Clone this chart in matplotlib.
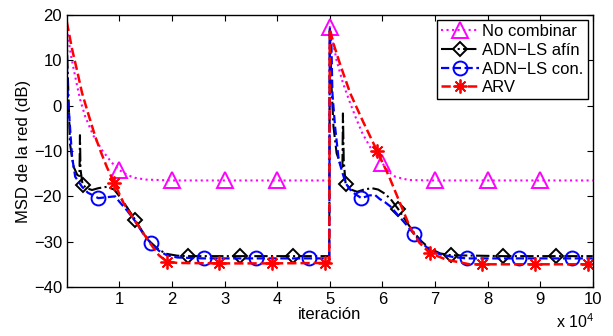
import numpy as np
import matplotlib
matplotlib.use("Agg")
import matplotlib.pyplot as plt

plt.rcParams['font.family'] = ['Liberation Sans', 'DejaVu Sans']
plt.rcParams['font.size'] = 12
plt.rcParams['mathtext.fontset'] = 'custom'
plt.rcParams['mathtext.rm'] = 'Liberation Sans'

# iterations in units of 10^4, MSD in dB
it_noc = [0, 0.08, 0.16, 0.25, 0.35, 0.5, 0.67, 0.85, 1.0, 1.15, 1.29, 1.5, 2.0, 3.0, 4.0, 4.99,
          5.0, 5.06, 5.13, 5.25, 5.39, 5.5, 5.62, 5.8, 6.0, 6.12, 6.25, 6.5, 7.0, 8.0, 9.0, 10.0]
msd_noc = [17, 11, 6.4, 1.5, -2.4, -6.5, -9.8, -12.5, -14.2, -15.3, -15.9, -16.3, -16.5, -16.5, -16.5, -16.5,
           17.4, 14, 10, 5, 0.5, -2.8, -6.1, -9.8, -12.7, -14.6, -15.7, -16.4, -16.5, -16.5, -16.5, -16.5]
mk_noc = [1, 2, 3, 4, 5, 6, 7, 8, 9]

it_afin = [0, 0.01, 0.03, 0.06, 0.1, 0.13, 0.2, 0.24, 0.25, 0.26, 0.3, 0.4, 0.48, 0.6, 0.76, 0.9,
           1.0, 1.15, 1.3, 1.45, 1.58, 1.75, 1.9, 2.1, 2.3, 3.3, 4.3, 4.99,
           5.0, 5.01, 5.03, 5.07, 5.13, 5.2, 5.24, 5.25, 5.265, 5.3, 5.4, 5.52, 5.65, 5.8, 5.92, 6.03,
           6.15, 6.3, 6.45, 6.6, 6.75, 6.9, 7.1, 7.3, 8.3, 9.3, 10.0]
msd_afin = [16, 10, 2.8, -8.3, -11.5, -13.5, -15.3, -15.5, -6.5, -14, -17.5, -18.3, -18.6, -18.2, -17.9, -18.5,
            -20, -22.5, -25.2, -28, -30, -31.8, -32.7, -33.1, -33.2, -33.2, -33.2, -33.2,
            17, 13.7, 5, -4.6, -10.5, -12.8, -13.5, -1.7, -12, -17.2, -18.5, -19, -18.5, -18.2, -18.5, -19.3,
            -20.5, -22.8, -25.5, -28, -30, -31.5, -32.6, -33.0, -33.2, -33.2, -33.2]
mk_afin = [0.3, 1.3, 2.3, 3.3, 4.3, 5.3, 6.3, 7.3, 8.3, 9.3]

it_con = [0, 0.005, 0.02, 0.06, 0.1, 0.16, 0.29, 0.4, 0.6, 0.75, 0.92, 1.0, 1.15, 1.3, 1.45, 1.6,
          1.75, 1.9, 2.1, 2.6, 3.6, 4.6, 4.99,
          5.0, 5.03, 5.05, 5.1, 5.17, 5.3, 5.42, 5.6, 5.75, 5.86, 5.95, 6.05, 6.15, 6.27, 6.45, 6.6,
          6.75, 6.9, 7.1, 7.35, 7.6, 8.6, 9.6, 10.0]
msd_con = [14, 8, 2, -4.6, -11.3, -15.7, -17.9, -19.2, -20.4, -20.2, -20, -21.2, -23.2, -25.5, -28.2, -30.4,
           -32, -33, -33.5, -33.7, -33.7, -33.7, -33.7,
           17, 13.7, 2.7, -4.6, -12, -17.1, -19, -20.4, -19.8, -19.7, -20.6, -21.3, -22.2, -23.8, -26.2, -28.3,
           -30.3, -31.8, -32.8, -33.4, -33.7, -33.7, -33.7, -33.7]
mk_con = [0.6, 1.6, 2.6, 3.6, 4.6, 5.6, 6.6, 7.6, 8.6, 9.6]

it_arv = [0, 0.1, 0.2, 0.29, 0.4, 0.54, 0.65, 0.76, 0.9, 1.08, 1.3, 1.58, 1.75, 1.9, 2.1, 2.9, 3.9, 4.9, 4.99,
          5.0, 5.07, 5.2, 5.39, 5.62, 5.9, 6.13, 6.3, 6.52, 6.7, 6.9, 7.22, 7.66, 7.9, 8.9, 9.9, 10.0]
msd_arv = [18.5, 12.5, 7.5, 2.8, -1.5, -6.8, -10.3, -13.5, -17.0, -21.5, -25.5, -30.3, -33, -34.4, -34.7,
           -34.8, -34.8, -34.7, -34.7,
           17.0, 13.7, 9.0, 2.7, -3.2, -10.0, -15.7, -20.5, -26.7, -30.2, -32.5, -34.0, -35.0, -35.0, -35.0,
           -35.0, -35.0]
mk_arv = [0.9, 1.9, 2.9, 3.9, 4.9, 5.9, 6.9, 7.9, 8.9, 9.9]

fig = plt.figure(figsize=(6.13, 3.36), dpi=100)
ax = fig.add_axes([0.109, 0.146, 0.858, 0.809])


def marks(xs, where):
    return list(np.nonzero(np.isin(np.round(xs, 3), np.round(where, 3)))[0])


ax.plot(it_noc, msd_noc, color='#ff00ff', ls=':', lw=1.5, marker='^', ms=11, mfc='none', mew=1.4,
        markevery=marks(it_noc, mk_noc), label='No combinar')
ax.plot(it_afin, msd_afin, color='black', ls='-.', lw=1.5, marker='D', ms=7.5, mfc='none', mew=1.4,
        markevery=marks(it_afin, mk_afin), label='ADN\u2212LS afín')
ax.plot(it_con, msd_con, color='#0000ff', ls='--', lw=1.6, marker='o', ms=10, mfc='none', mew=1.4,
        markevery=marks(it_con, mk_con), label='ADN\u2212LS con.')
ax.plot(it_arv, msd_arv, color='#ff0000', ls='--', lw=1.8, marker=(8, 2, 0), ms=10, mew=1.3,
        markevery=marks(it_arv, mk_arv), label='ARV')

ax.set_xlim(0, 10)
ax.set_ylim(-40, 20)
ax.set_xticks(range(1, 11))
ax.set_yticks(range(-40, 21, 10))
ax.set_yticklabels(['\u221240', '\u221230', '\u221220', '\u221210', '0', '10', '20'])
ax.tick_params(direction='in', top=True, right=True, length=4, labelsize=12)
for s in ax.spines.values():
    s.set_linewidth(1.0)

ax.set_xlabel('iteración', labelpad=0)
ax.set_ylabel('MSD de la red (dB)', labelpad=2)
ax.text(0.966, -0.128, r'x $\mathregular{10^4}$', transform=ax.transAxes, ha='center', va='center',
        fontsize=11.5)

leg = ax.legend(loc='upper right', fancybox=False, framealpha=1, edgecolor='black',
                borderpad=0.25, labelspacing=0.22, handlelength=2.3, handletextpad=0.2,
                borderaxespad=0.3, fontsize=12)
leg.get_frame().set_linewidth(1.0)

fig.savefig('out.png', dpi=100)
